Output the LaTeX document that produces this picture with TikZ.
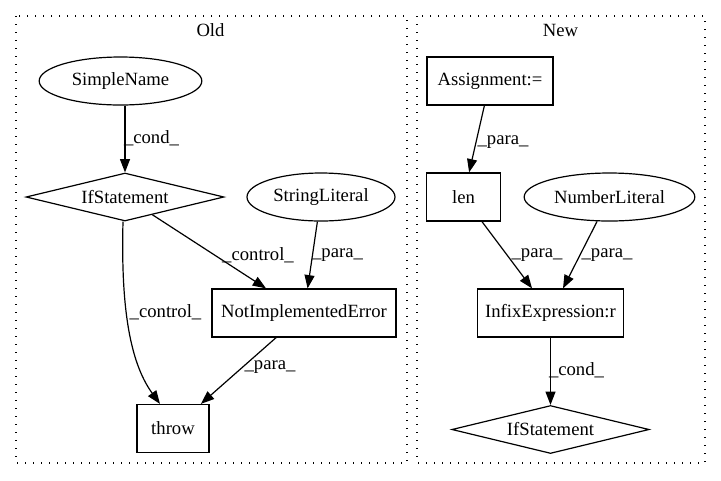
\documentclass[tikz,border=0pt]{standalone}
\usepackage{fontspec}
\setmainfont{Liberation Serif}
\usetikzlibrary{shapes.geometric,arrows.meta,calc}
\begin{document}
\begin{tikzpicture}[x=0.75pt,y=-0.75pt,
  every node/.style={font=\fontsize{14pt}{16pt}\selectfont},
  base/.style={draw, line width=0.9pt, inner sep=0pt, minimum height=36pt},
  box/.style={base, rectangle},
  ell/.style={base, ellipse},
  dia/.style={base, diamond, aspect=4},
  lbl/.style={inner sep=0pt},
  arr/.style={line width=0.9pt, -{Triangle[length=10pt,width=7.5pt]}},
  clus/.style={line width=1pt, dash pattern=on 1pt off 5pt}
]
\useasboundingbox (0,0) rectangle (721,480);

% clusters
\draw[clus] (16,16) rectangle (407,463);
\draw[clus] (417,16) rectangle (705,463);
\node[lbl] (old) at (210.5,30) {Old};
\node[lbl] (new) at (560.5,30) {New};

% Old
\node[ell, minimum width=122pt] (sn) at (120.5,81) {SimpleName};
\node[dia, minimum width=148.5pt] (if1) at (125,197) {IfStatement};
\node[ell, minimum width=111pt] (sl) at (321,197) {StringLiteral};
\node[box, minimum width=138pt] (nie) at (304,313) {NotImplementedError};
\node[box, minimum width=54pt] (thr) at (173,428.5) {throw};

% New
\node[box, minimum width=94.5pt] (asg) at (490,81) {Assignment:=};
\node[box, minimum width=55pt] (len) at (463.5,197) {len};
\node[ell, minimum width=128pt] (num) at (609.5,197) {NumberLiteral};
\node[box, minimum width=110pt] (inf) at (550.5,313) {InfixExpression:r};
\node[dia, minimum width=148pt] (if2) at (550.5,429.5) {IfStatement};

% edges Old
\draw[arr] (if1.north |- sn.south) -- (if1);
\draw[arr] (if1) -- (nie);
\draw[arr] (sl) -- (nie);
\draw[arr] ($(if1.south)+(-2,0)$) .. controls (121,300) and (128,360) .. ($(thr.north)+(-13,0)$);
\draw[arr] (nie) -- (thr);

% edges New
\draw[arr] (asg) -- (len);
\draw[arr] (len) -- (inf);
\draw[arr] (num) -- (inf);
\draw[arr] (inf) -- (if2);

% labels
\node[lbl] (l1) at (151.5,138) {\_cond\_};
\node[lbl] (l2) at (258,255) {\_control\_};
\node[lbl] (l3) at (337.5,255) {\_para\_};
\node[lbl] (l4) at (165.5,312) {\_control\_};
\node[lbl] (l5) at (270,367) {\_para\_};
\node[lbl] (l6) at (503,142) {\_para\_};
\node[lbl] (l7) at (537,255) {\_para\_};
\node[lbl] (l8) at (607,255) {\_para\_};
\node[lbl] (l9) at (576.5,370) {\_cond\_};
\end{tikzpicture}
\end{document}
